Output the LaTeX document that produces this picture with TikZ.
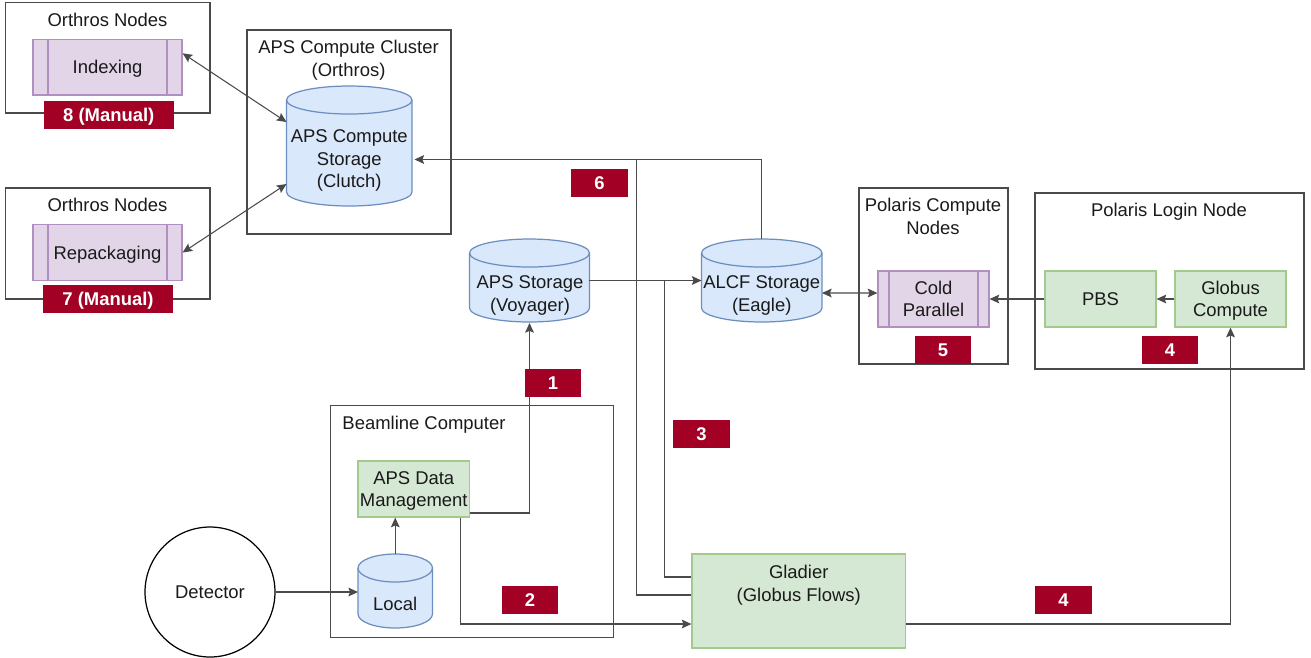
\documentclass[tikz,border=0pt]{standalone}
\usepackage{fontspec}
\setmainfont{Liberation Sans}
\usetikzlibrary{arrows.meta}
\definecolor{linegray}{HTML}{4A4A4A}
\definecolor{bluefill}{HTML}{DAE8FC}
\definecolor{bluedraw}{HTML}{6C8EBF}
\definecolor{greenfill}{HTML}{D5E8D4}
\definecolor{greendraw}{HTML}{A3C98F}
\definecolor{purplefill}{HTML}{E1D5E7}
\definecolor{purpledraw}{HTML}{B090C0}
\definecolor{badgered}{HTML}{A20025}
\definecolor{inkgray}{HTML}{1A1A1A}
\tikzset{
  frame/.style={draw=linegray,line width=.65pt,inner sep=0pt},
  tlabel/.style={align=center,text=inkgray,inner sep=0pt,font=\fontsize{10.5}{12.8}\selectfont},
  greenbox/.style={draw=greendraw,fill=greenfill,line width=.7pt,inner sep=0pt,align=center,text=inkgray,
    text depth=0pt,font=\fontsize{10.5}{12.8}\selectfont},
  purplebox/.style={draw=purpledraw,fill=purplefill,line width=.7pt,inner sep=0pt,align=center,text=inkgray,
    text depth=0pt,font=\fontsize{10.5}{12.8}\selectfont,
    path picture={
      \draw[purpledraw,line width=.7pt]
        ([xshift=#1]path picture bounding box.north west) -- ([xshift=#1]path picture bounding box.south west)
        ([xshift=-#1]path picture bounding box.north east) -- ([xshift=-#1]path picture bounding box.south east);
    }},
  store/.style={inner sep=0pt,outer sep=0pt,
    append after command={\pgfextra{
      \draw[draw=bluedraw,fill=bluefill,line width=.7pt]
        ([yshift=-.28cm]\tikzlastnode.north west) arc[start angle=180,end angle=0,x radius=#1,y radius=.28cm]
        -- ([yshift=.28cm]\tikzlastnode.south east) arc[start angle=0,end angle=-180,x radius=#1,y radius=.28cm]
        -- cycle;
      \draw[draw=bluedraw,line width=.7pt]
        ([yshift=-.28cm]\tikzlastnode.north west) arc[start angle=180,end angle=360,x radius=#1,y radius=.28cm];
    }}},
  badge/.style={fill=badgered,text=white,inner sep=0pt,font=\fontsize{10.5}{12}\selectfont\bfseries,
    text height=7.5pt,text depth=0pt,minimum height=.56cm},
  plainline/.style={draw=linegray,line width=.6pt},
  flow/.style={plainline,-{Stealth[length=5.5pt,width=5pt,inset=1pt]}},
  twoway/.style={plainline,{Stealth[length=5.5pt,width=5pt,inset=1pt]}-{Stealth[length=5.5pt,width=5pt,inset=1pt]}}
}
\begin{document}
\begin{tikzpicture}[x=.02cm,y=-.02cm]
\useasboundingbox (0,0) rectangle (1311,657);

\node[frame,minimum width=4.09cm,minimum height=2.21cm] (nodesa) at (107.75,57.75) {};
\node[frame,minimum width=4.09cm,minimum height=2.22cm] (nodesb) at (107.75,243.5) {};
\node[frame,minimum width=4.08cm,minimum height=4.08cm] (cluster) at (349,132) {};
\node[frame,minimum width=2.98cm,minimum height=3.52cm] (polcomp) at (933.5,276) {};
\node[frame,minimum width=5.38cm,minimum height=3.52cm] (login) at (1169.5,281) {};
\node[frame,minimum width=5.66cm,minimum height=4.64cm] (beamline) at (472,521.5) {};

\node[tlabel] (nodesatext) at (107.5,20) {Orthros Nodes};
\node[tlabel] (nodesbtext) at (107.5,205) {Orthros Nodes};
\node[tlabel] (clustertext) at (348.5,60) {APS Compute Cluster\\(Orthros)};
\node[tlabel] (polcomptext) at (933,216.5) {Polaris Compute\\Nodes};
\node[tlabel] (logintext) at (1169,212) {Polaris Login Node};
\node[tlabel] (beamtext) at (424,425) {Beamline Computer};

\node[purplebox=.3cm,minimum width=2.98cm,minimum height=1.11cm] (indexing) at (107.5,67.25) {Indexing};
\node[purplebox=.3cm,minimum width=2.98cm,minimum height=1.11cm] (repack) at (107.5,252.5) {Repackaging};
\node[purplebox=.22cm,minimum width=2.22cm,minimum height=1.12cm] (cold) at (933.5,299) {Cold\\Parallel};
\node[greenbox,minimum width=2.22cm,minimum height=1.12cm] (pbs) at (1100.5,299) {PBS};
\node[greenbox,minimum width=2.22cm,minimum height=1.12cm] (globus) at (1230.5,299) {Globus\\Compute};
\node[greenbox,minimum width=2.23cm,minimum height=1.12cm] (dm) at (413.75,489) {APS Data\\Management};
\node[greenbox,minimum width=4.27cm,minimum height=1.88cm] (gladier) at (798.75,601) {};
\node[tlabel] (gladiertext) at (798.75,585) {Gladier\\(Globus Flows)};

\node[store=1.255cm,minimum width=2.51cm,minimum height=2.4cm] (clutch) at (349.25,146) {};
\node[tlabel] (clutchtext) at (349.25,160.5) {APS Compute\\Storage\\(Clutch)};
\node[store=1.2cm,minimum width=2.4cm,minimum height=1.66cm] (voyager) at (529.5,280.5) {};
\node[tlabel] (voyagertext) at (530,295.5) {APS Storage\\(Voyager)};
\node[store=1.205cm,minimum width=2.41cm,minimum height=1.66cm] (eagle) at (761.75,280.5) {};
\node[tlabel] (eagletext) at (761.75,295.5) {ALCF Storage\\(Eagle)};
\node[store=.745cm,minimum width=1.49cm,minimum height=1.48cm] (local) at (395.25,591) {};
\node[tlabel] (localtext) at (395.25,604) {Local};

\node[circle,draw=black,line width=.7pt,minimum size=2.6cm,inner sep=0pt,text=inkgray,
  font=\fontsize{10.5}{12.8}\selectfont] (detector) at (210,592) {Detector};

\coordinate (joinsix) at (636.5,159.5);
\coordinate (jointhree) at (664.5,281);

\draw[twoway] ([yshift=.28cm]indexing.east) -- ([yshift=.48cm]clutch.west);
\draw[twoway] (repack.east) -- ([yshift=-.76cm]clutch.west);
\draw[flow] (eagle.north) |- ([yshift=-.27cm,xshift=.05cm]clutch.east);
\draw[plainline] ([yshift=.12cm]gladier.west) -| (joinsix);
\draw[plainline] ([yshift=.48cm]gladier.west) -| (jointhree);
\draw[flow] (voyager.east) -- (eagle.west);
\draw[flow] ([yshift=-.48cm]dm.east) -| ([yshift=-.02cm]voyager.south);
\draw[flow] ([xshift=.935cm]dm.south) |- ([yshift=-.46cm]gladier.west);
\draw[flow] (local.north) -- (local.north |- dm.south);
\draw[flow] (detector.east) -- (detector.east -| local.west);
\draw[flow] ([yshift=-.46cm]gladier.east) -| (globus.south);
\draw[flow] (globus.west) -- (pbs.east);
\draw[flow] (pbs.west) -- (cold.east);
\draw[twoway] ([yshift=-.25cm]eagle.east) -- ([yshift=.12cm]cold.west);

\node[badge,minimum width=2.61cm] (badgeeight) at (108.75,114.5) {8 (Manual)};
\node[badge,minimum width=2.61cm] (badgeseven) at (108,299) {7 (Manual)};
\node[badge,minimum width=1.13cm] (badgesix) at (599.5,183) {6};
\node[badge,minimum width=1.13cm] (badgeone) at (553,383) {1};
\node[badge,minimum width=1.13cm] (badgethree) at (701.5,433.5) {3};
\node[badge,minimum width=1.13cm] (badgetwo) at (530,600) {2};
\node[badge,minimum width=1.13cm] (badgefourb) at (1063.5,600) {4};
\node[badge,minimum width=1.13cm] (badgefive) at (943,350) {5};
\node[badge,minimum width=1.13cm] (badgefoura) at (1170,350) {4};
\end{tikzpicture}
\end{document}
